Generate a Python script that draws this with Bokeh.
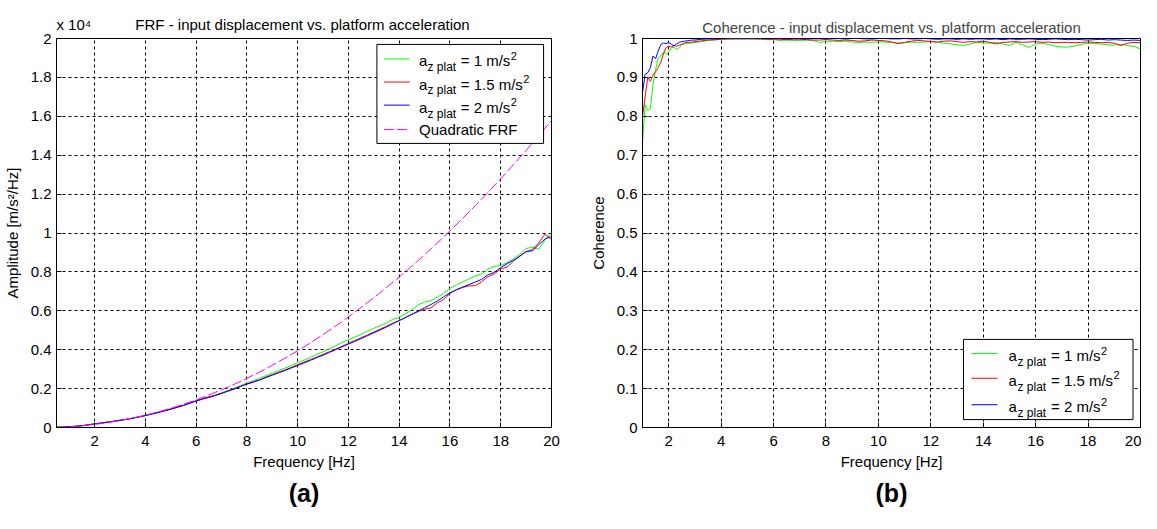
from bokeh.plotting import figure
from bokeh.layouts import row
from bokeh.models import FixedTicker, Label, BoxAnnotation, Arrow, Range1d, Title, LinearAxis
from bokeh.embed import file_html
from bokeh.resources import INLINE

FONT = "Liberation Sans"

# ---------------- data ----------------
frf_freq = [0.5 + 0.25 * i for i in range(79)]
frf_a1 = [12, 24, 42, 65, 95, 138, 188, 232, 276, 322,
          372, 425, 482, 550, 620, 700, 790, 870, 960, 1050,
          1150, 1265, 1380, 1480, 1570, 1670, 1790, 1905, 2020, 2160,
          2290, 2400, 2530, 2660, 2790, 2920, 3050, 3190, 3330, 3460,
          3600, 3750, 3890, 4040, 4200, 4370, 4520, 4640, 4790, 4950,
          5100, 5230, 5380, 5560, 5650, 5850, 6050, 6300, 6450, 6520,
          6700, 6900, 7150, 7330, 7480, 7640, 7800, 7900, 8150, 8280,
          8330, 8480, 8680, 8900, 9200, 9270, 9170, 9650, 10050]
frf_a15 = [11, 23, 41, 63, 93, 136, 186, 229, 273, 319,
           369, 421, 480, 547, 615, 692, 775, 858, 948, 1042,
           1140, 1255, 1370, 1480, 1580, 1650, 1760, 1875, 1990, 2120,
           2240, 2350, 2450, 2590, 2710, 2840, 2960, 3090, 3230, 3360,
           3490, 3620, 3760, 3900, 4030, 4180, 4320, 4470, 4620, 4760,
           4910, 5060, 5210, 5360, 5490, 5660, 5820, 5960, 6080, 6150,
           6400, 6580, 6900, 7080, 7200, 7280, 7290, 7500, 7750, 7900,
           8150, 8250, 8550, 8820, 9030, 9160, 9500, 9950, 9650]
frf_a2 = [10, 22, 40, 62, 92, 135, 185, 228, 272, 318,
          368, 420, 478, 545, 612, 690, 770, 852, 940, 1035,
          1130, 1245, 1360, 1455, 1540, 1640, 1750, 1865, 1975, 2110,
          2230, 2330, 2440, 2570, 2690, 2810, 2930, 3060, 3190, 3320,
          3450, 3590, 3720, 3860, 4000, 4150, 4290, 4430, 4570, 4720,
          4870, 5010, 5170, 5340, 5500, 5660, 5820, 5990, 6160, 6320,
          6500, 6720, 6920, 7080, 7220, 7350, 7480, 7620, 7850, 7980,
          8220, 8420, 8600, 8800, 9050, 9080, 9400, 9700, 9820]
quad_freq = [0.5 * i for i in range(1, 41)]
quad_frf = [10, 40, 90, 160, 250, 355, 485, 630, 800, 990,
            1195, 1420, 1670, 1935, 2220, 2525, 2850, 3200, 3565, 3950,
            4350, 4775, 5220, 5685, 6170, 6670, 7195, 7740, 8300, 8885,
            9485, 10105, 10750, 11410, 12090, 12790, 13510, 14250, 15010, 15790]

coh_freq = [1.0 + 0.1 * i for i in range(21)] + [3.25 + 0.25 * i for i in range(68)]
coh_a1 = [0.73, 0.83, 0.815, 0.82, 0.88, 0.92, 0.95, 0.955, 0.965, 0.96, 0.965,
          0.976, 0.978, 0.972, 0.976, 0.984, 0.986, 0.987, 0.988, 0.988, 0.99,
          0.992, 0.995, 0.996, 0.998, 0.998, 0.999, 0.999, 0.999, 0.999, 0.998,
          0.997, 0.997, 0.995, 0.996, 0.995, 0.995, 0.996, 0.995, 0.99, 0.992,
          0.993, 0.992, 0.993, 0.991, 0.99, 0.991, 0.99, 0.992, 0.991, 0.99,
          0.988, 0.989, 0.991, 0.99, 0.991, 0.993, 0.99, 0.988, 0.986, 0.984,
          0.982, 0.986, 0.99, 0.989, 0.988, 0.99, 0.986, 0.982, 0.99, 0.984,
          0.977, 0.986, 0.987, 0.985, 0.98, 0.978, 0.978, 0.981, 0.985, 0.988,
          0.987, 0.986, 0.984, 0.983, 0.985, 0.982, 0.98, 0.973]
coh_a15 = [0.80, 0.85, 0.90, 0.89, 0.905, 0.915, 0.925, 0.94, 0.96, 0.977, 0.98,
           0.978, 0.982, 0.98, 0.983, 0.985, 0.988, 0.99, 0.99, 0.991, 0.992,
           0.994, 0.996, 0.997, 0.998, 0.999, 0.999, 0.999, 0.999, 0.999, 0.999,
           0.998, 0.998, 0.998, 0.997, 0.998, 0.998, 0.997, 0.996, 0.996, 0.997,
           0.996, 0.995, 0.996, 0.995, 0.993, 0.994, 0.996, 0.995, 0.994, 0.991,
           0.987, 0.99, 0.993, 0.995, 0.994, 0.992, 0.991, 0.993, 0.994, 0.992,
           0.99, 0.992, 0.991, 0.993, 0.99, 0.986, 0.99, 0.991, 0.992, 0.99,
           0.991, 0.992, 0.99, 0.991, 0.989, 0.99, 0.99, 0.989, 0.99, 0.991,
           0.99, 0.989, 0.99, 0.988, 0.982, 0.988, 0.99, 0.989]
coh_a2 = [0.86, 0.908, 0.912, 0.925, 0.955, 0.948, 0.968, 0.985, 0.988, 0.987, 0.99,
          0.985, 0.981, 0.986, 0.99, 0.992, 0.993, 0.994, 0.995, 0.996, 0.996,
          0.998, 0.999, 0.999, 1.0, 1.0, 1.0, 1.0, 1.0, 1.0, 1.0,
          1.0, 1.0, 1.0, 0.999, 1.0, 1.0, 0.999, 1.0, 1.0, 0.999,
          1.0, 1.0, 0.999, 1.0, 1.0, 0.999, 0.999, 1.0, 1.0, 0.999,
          0.999, 1.0, 0.999, 0.999, 1.0, 0.999, 0.998, 0.999, 0.999, 0.998,
          0.999, 0.998, 0.999, 0.999, 0.998, 0.999, 0.997, 0.999, 0.998, 0.998,
          0.999, 0.998, 0.997, 0.998, 0.999, 0.998, 0.997, 0.998, 0.997, 0.996,
          0.997, 0.998, 0.996, 0.997, 0.996, 0.995, 0.996, 0.995]

x_ticks = [2, 4, 6, 8, 10, 12, 14, 16, 18, 20]
frf_y_ticks = [0, 2000, 4000, 6000, 8000, 10000, 12000, 14000, 16000, 18000, 20000]
frf_y_labels = ["0", "0.2", "0.4", "0.6", "0.8", "1", "1.2", "1.4", "1.6", "1.8", "2"]
coh_y_ticks = [0, 0.1, 0.2, 0.3, 0.4, 0.5, 0.6, 0.7, 0.8, 0.9, 1.0]
coh_y_labels = ["0", "0.1", "0.2", "0.3", "0.4", "0.5", "0.6", "0.7", "0.8", "0.9", "1"]
frf_title = "FRF - input displacement vs. platform acceleration"
frf_multiplier = "x 10⁴"

GREEN, RED, BLUE, MAG = "#00ff00", "#ff0000", "#0000ff", "#ff00ff"
FIG_H = 513


def style(p, yticks, ylabels):
    p.title.text_font = FONT
    p.title.text_font_size = "15px"
    p.title.text_font_style = "normal"
    p.title.align = "center"
    p.title.standoff = 6
    p.xaxis.ticker = FixedTicker(ticks=x_ticks)
    p.xaxis.major_label_overrides = {t: str(t) for t in x_ticks}
    p.yaxis.ticker = FixedTicker(ticks=yticks)
    p.yaxis.major_label_overrides = dict(zip(yticks, ylabels))
    for ax in (p.xaxis, p.yaxis):
        ax.major_tick_in = 5
        ax.major_tick_out = 0
        ax.minor_tick_in = 0
        ax.minor_tick_out = 0
        ax.axis_line_color = "black"
        ax.major_tick_line_color = "black"
        ax.major_label_text_font = FONT
        ax.major_label_text_font_size = "15px"
        ax.major_label_text_color = "black"
        ax.axis_label_text_font = FONT
        ax.axis_label_text_font_size = "15px"
        ax.axis_label_text_font_style = "normal"
        ax.axis_label_text_color = "black"
    p.xaxis.major_label_standoff = 8
    p.xaxis.axis_label_standoff = 4
    p.yaxis.major_label_standoff = 5
    p.yaxis.axis_label_standoff = 7
    p.grid.grid_line_color = "black"
    p.grid.grid_line_dash = "3 3"
    p.grid.grid_line_width = 1
    p.outline_line_color = "black"
    p.outline_line_alpha = 1
    p.background_fill_color = "white"
    p.border_fill_color = "white"


def L(px, py):
    return 0.5 + (px - 60) / 499 * 19.5, (435 - py) / 393 * 20000


def R(px, py):
    return 1 + (px - 650) / 498 * 19, (439 - py) / 393


def text(p, conv, px, py, s, size, baseline="middle", align="left"):
    x, y = conv(px, py)
    p.add_layout(Label(x=x, y=y, text=s, text_font=FONT, text_font_size=size,
                       text_baseline=baseline, text_align=align, text_color="black"))


def legend(p, conv, box, lx, tx, rows):
    x0, y0 = conv(box[0], box[3])
    x1, y1 = conv(box[2], box[1])
    p.add_layout(BoxAnnotation(left=x0, right=x1, bottom=y0, top=y1,
                               fill_color="white", fill_alpha=1,
                               line_color="black", line_alpha=1, line_width=1))
    for ry, color, dash, parts in rows:
        xa, ya = conv(lx[0], ry)
        xb, _ = conv(lx[1], ry)
        p.add_layout(Arrow(x_start=xa, y_start=ya, x_end=xb, y_end=ya, start=None, end=None,
                           line_color=color, line_width=1, line_dash=dash))
        if isinstance(parts, str):
            text(p, conv, tx[0], ry, parts, "15px")
        else:
            main, sup_x = parts
            text(p, conv, tx[0], ry + 2, "a", "15px")
            text(p, conv, tx[1], ry + 8.5, "z plat", "12px")
            text(p, conv, tx[2], ry + 2, main, "15px")
            text(p, conv, sup_x, ry - 3, "2", "11px")


def panel_tag(p, s):
    p.add_layout(Title(text=s, align="center", text_font=FONT, text_font_size="25px",
                       text_font_style="bold", text_color="black", standoff=8), "below")


# ---------------- panel (a) ----------------
p1 = figure(width=572, height=FIG_H, x_range=Range1d(0.5, 20), y_range=Range1d(0, 20000),
            output_backend="svg", toolbar_location=None,
            min_border_left=52, min_border_right=21, min_border_top=34, min_border_bottom=86,
            x_axis_label="Frequency [Hz]", y_axis_label="Amplitude [m/s²/Hz]")
style(p1, frf_y_ticks, frf_y_labels)
p1.line(frf_freq, frf_a1, line_color=GREEN, line_width=1)
p1.line(frf_freq, frf_a15, line_color=RED, line_width=1)
p1.line(frf_freq, frf_a2, line_color=BLUE, line_width=1)
p1.line(quad_freq, quad_frf, line_color=MAG, line_width=1, line_dash="10 3")

# title row of panel (a): the "x 10^4" multiplier and the title share one line
mult_x, _ = L(77.5, 0)
title_x, _ = L(308, 0)
top_axis = LinearAxis(ticker=FixedTicker(ticks=[mult_x, title_x]),
                      major_label_overrides={mult_x: frf_multiplier, title_x: frf_title},
                      axis_line_color=None, major_tick_line_color=None,
                      minor_tick_line_color=None, major_tick_in=0, major_tick_out=0,
                      minor_tick_in=0, minor_tick_out=0,
                      major_label_text_font=FONT, major_label_text_font_size="15px",
                      major_label_text_color="black", major_label_standoff=6)
p1.add_layout(top_axis, "above")

legend(p1, L, (383, 48, 551, 148), (390, 416), (425.5, 434, 467.5),
       [(62.7, GREEN, "solid", ("= 1 m/s", 518)),
        (86.0, RED, "solid", ("= 1.5 m/s", 530.5)),
        (109.3, BLUE, "solid", ("= 2 m/s", 518)),
        (134.0, MAG, "10 3", "Quadratic FRF")])

panel_tag(p1, "(a)")

# ---------------- panel (b) ----------------
p2 = figure(width=569, height=FIG_H, x_range=Range1d(1, 20), y_range=Range1d(0, 1),
            output_backend="svg", toolbar_location=None,
            min_border_left=70, min_border_right=1, min_border_top=38, min_border_bottom=82,
            title="Coherence - input displacement vs. platform acceleration",
            x_axis_label="Frequency [Hz]", y_axis_label="Coherence")
style(p2, coh_y_ticks, coh_y_labels)
p2.line(coh_freq, coh_a1, line_color=GREEN, line_width=1)
p2.line(coh_freq, coh_a15, line_color=RED, line_width=1)
p2.line(coh_freq, coh_a2, line_color=BLUE, line_width=1)

legend(p2, R, (971, 350, 1140.5, 431), (979, 1005), (1016, 1025, 1058.5),
       [(364.3, GREEN, "solid", ("= 1 m/s", 1108.5)),
        (389.3, RED, "solid", ("= 1.5 m/s", 1121)),
        (416.0, BLUE, "solid", ("= 2 m/s", 1108.5))])

panel_tag(p2, "(b)")

layout = row(p1, p2)
open("out.html", "w").write(file_html(layout, INLINE))
